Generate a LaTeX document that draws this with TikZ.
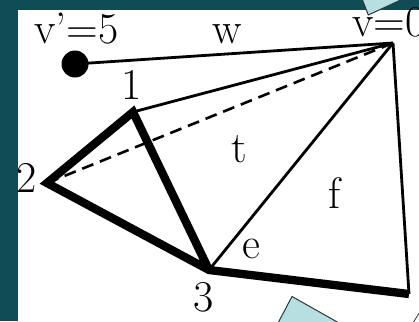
\documentclass[tikz,border=0pt]{standalone}
\definecolor{tealbg}{HTML}{0F4C55}
\definecolor{paleblue}{HTML}{B7DFE2}
\definecolor{shapeline}{HTML}{2A3A3C}
\begin{document}
\begin{tikzpicture}[x=1pt,y=-1pt,
  thinedge/.style={line width=2.8pt},
  thickedge/.style={line width=8.3pt, line join=miter},
  dashedge/.style={line width=2.6pt, dash pattern=on 12pt off 7pt},
  lbl/.style={font=\fontsize{44}{44}\selectfont, inner sep=0pt, anchor=base west},
  blueshape/.style={fill=paleblue, draw=shapeline, line width=1pt}]
\useasboundingbox (0,0) rectangle (419,321);
\clip (0,0) rectangle (419,321);
\fill[tealbg] (0,0) rectangle (419,321);
\fill[white] (18,10) rectangle (419,321);
\draw[blueshape] (361.7,-2) -- (368.3,15) -- (405,-2) -- cycle;
\draw[blueshape] (278,323) -- (292,296.5) -- (339,323) -- cycle;
% vertices
\coordinate (v5) at (75,64);
\coordinate (v0) at (393,43);
\coordinate (n1) at (133,112);
\coordinate (n2) at (47,183);
\coordinate (n3) at (209,270);
\coordinate (n4) at (409,294);
% edges
\draw[thinedge] (v5) -- (v0);
\draw[thinedge] (n1) -- (v0);
\draw[dashedge] (n2) -- (v0);
\draw[thinedge] (n3) -- (v0);
\draw[thinedge] (n4) -- (v0);
\draw[thickedge] (n4) -- (n3) -- (n2) -- (n1) -- (n3);
\fill (v5) circle (13.5);
% labels
\node[lbl] (lv5) at (34,43) {v'=5};
\node[lbl] (lv0) at (352,37) {v=0};
\node[lbl] (lw) at (212,43) {w};
\node[lbl] (lt) at (231,162) {t};
\node[lbl] (lf) at (328,208) {f};
\node[lbl] (le) at (242,258) {e};
\node[lbl] (l1) at (121,99) {1};
\node[lbl] (l2) at (16,192) {2};
\node[lbl] (l3) at (193,311) {3};
\node[lbl] (l4) at (412,331) {4};
\end{tikzpicture}
\end{document}
